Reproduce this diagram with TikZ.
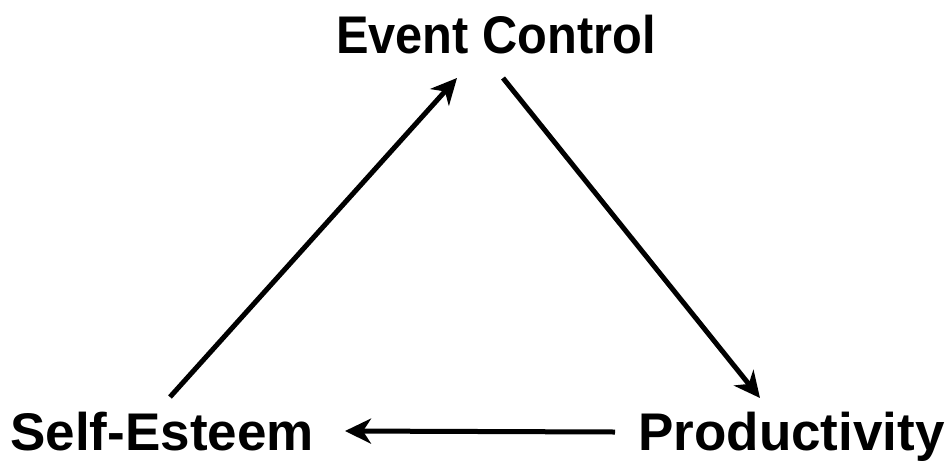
\documentclass[tikz,border=0pt]{standalone}
\usepackage{fontspec}
\setmainfont{Liberation Sans}
\usepackage{graphicx}
\usepackage{tikz}
\usetikzlibrary{
  arrows.meta,
  positioning
}
\tikzset{
  concept/.style={inner sep=0pt,font=\fontsize{26.5}{30}\selectfont\bfseries},
  link/.style={-{Stealth[length=13pt,width=12.5pt,inset=4pt]},line width=2.5pt,draw=black}
}

\begin{document}
\begin{tikzpicture}[x=0.5pt,y=-0.5pt]
\useasboundingbox (0,0) rectangle (949,462);
\node[concept, anchor=base] (ec) at (496,53) {\scalebox{0.92}[1]{Event Control}};
\node[concept, anchor=base west] (se) at (10,450) {Self-Esteem};
\node[concept, anchor=base west] (pr) at (638,450) {Productivity};
\draw[link] ([shift={(160,-53)}]se.base west) -- ([shift={(-39,25)}]ec.base);
\draw[link] ([shift={(7,25)}]ec.base) -- ([shift={(122,-52)}]pr.base west);
\draw[link] ([shift={(-23,-18)}]pr.base west) -- ([shift={(335,-19)}]se.base west);
\end{tikzpicture}
\end{document}
